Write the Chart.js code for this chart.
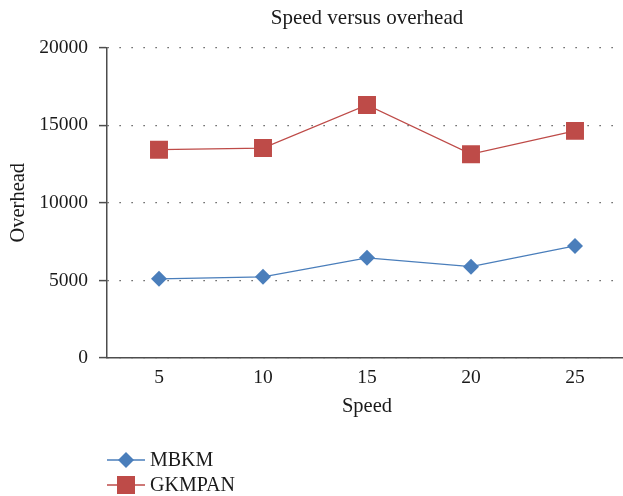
<!DOCTYPE html>
<html>
<head>
<meta charset="utf-8">
<script src="https://cdn.jsdelivr.net/npm/chart.js@4/dist/chart.umd.min.js"></script>
<style>
  html, body { margin: 0; padding: 0; background: #fff; overflow: hidden; }
  #wrap { width: 623px; height: 496px; position: relative; overflow: hidden; }
  #c { display: block; }
</style>
</head>
<body>
<div id="wrap"><canvas id="c" width="627" height="496"></canvas></div>
<script>
const categories = ['5', '10', '15', '20', '25'];
const mbkmValues = [5100, 5230, 6450, 5880, 7220];
const gkmpanValues = [13420, 13520, 16300, 13130, 14630];
const yTicks = [0, 5000, 10000, 15000, 20000];
const seriesNames = ['MBKM', 'GKMPAN'];

const FONT = '"Liberation Serif", "DejaVu Serif", serif';
const BLUE = '#4A7EBB';
const RED = '#BE4B48';
const AXIS = '#4d4d4d';
const TEXT = '#1a1a1a';

const legendPlugin = {
  id: 'customLegend',
  afterDraw(chart) {
    const ctx = chart.ctx;
    const items = [
      { name: seriesNames[0], color: BLUE, shape: 'diamond' },
      { name: seriesNames[1], color: RED, shape: 'square' }
    ];
    const x0 = 107, lineLen = 38, rowY = [460, 485];
    ctx.save();
    items.forEach((it, i) => {
      const y = rowY[i];
      ctx.strokeStyle = it.color;
      ctx.lineWidth = 1.3;
      ctx.beginPath();
      ctx.moveTo(x0, y);
      ctx.lineTo(x0 + lineLen, y);
      ctx.stroke();
      ctx.fillStyle = it.color;
      const cx = x0 + lineLen / 2;
      ctx.beginPath();
      if (it.shape === 'diamond') {
        const r = 8;
        ctx.moveTo(cx, y - r); ctx.lineTo(cx + r, y); ctx.lineTo(cx, y + r); ctx.lineTo(cx - r, y); ctx.closePath();
      } else {
        const s = 9;
        ctx.rect(cx - s, y - s, 2 * s, 2 * s);
      }
      ctx.fill();
      ctx.fillStyle = TEXT;
      ctx.font = '20px ' + FONT;
      ctx.textAlign = 'left';
      ctx.textBaseline = 'middle';
      ctx.fillText(it.name, x0 + lineLen + 5, y + 1);
    });
    ctx.restore();
  }
};

new Chart(document.getElementById('c'), {
  type: 'line',
  data: {
    labels: categories,
    datasets: [
      {
        label: seriesNames[0],
        data: mbkmValues,
        borderColor: BLUE,
        backgroundColor: BLUE,
        borderWidth: 1.3,
        pointStyle: 'rectRot',
        pointRadius: 8,
        pointHoverRadius: 8,
        pointBorderWidth: 0,
        tension: 0
      },
      {
        label: seriesNames[1],
        data: gkmpanValues,
        borderColor: RED,
        backgroundColor: RED,
        borderWidth: 1.3,
        pointStyle: 'rect',
        pointRadius: 12.7,
        pointHoverRadius: 12.7,
        pointBorderWidth: 0,
        tension: 0
      }
    ]
  },
  options: {
    responsive: false,
    animation: false,
    layout: { autoPadding: false, padding: { left: 0, right: 0, top: 0, bottom: 76 } },
    plugins: {
      legend: { display: false },
      tooltip: { enabled: false },
      title: {
        display: true,
        text: 'Speed versus overhead',
        fullSize: false,
        color: TEXT,
        font: { family: FONT, size: 21, weight: 'normal' },
        padding: { top: 6, bottom: 16.3 }
      }
    },
    scales: {
      x: {
        type: 'category',
        offset: true,
        grid: { display: false, drawTicks: false },
        border: { display: true, color: AXIS, width: 1.5 },
        ticks: { color: TEXT, font: { family: FONT, size: 19.5 }, padding: 8, maxRotation: 0 },
        title: { display: true, text: 'Speed', color: TEXT, font: { family: FONT, size: 20.5 }, padding: { top: 0, bottom: 1 } },
        afterFit(scale) { scale.height = 62; scale.paddingLeft = 0; scale.paddingRight = 0; }
      },
      y: {
        min: 0,
        max: 20000,
        afterBuildTicks(scale) { scale.ticks = yTicks.map(v => ({ value: v })); },
        grid: {
          color: '#3a3a3a',
          lineWidth: 1.2,
          tickLength: 8,
          tickColor: AXIS,
          tickWidth: 1.5,
          drawTicks: true
        },
        border: { display: true, color: AXIS, width: 1.5, dash: [1.2, 10.8] },
        ticks: { color: TEXT, font: { family: FONT, size: 19.5 }, padding: 11, callback: v => String(v) },
        title: { display: true, text: 'Overhead', color: TEXT, font: { family: FONT, size: 20.5 }, padding: { top: 6, bottom: 0 } },
        afterFit(scale) { scale.width = 107; }
      }
    }
  },
  plugins: [legendPlugin]
});
</script>
</body>
</html>
